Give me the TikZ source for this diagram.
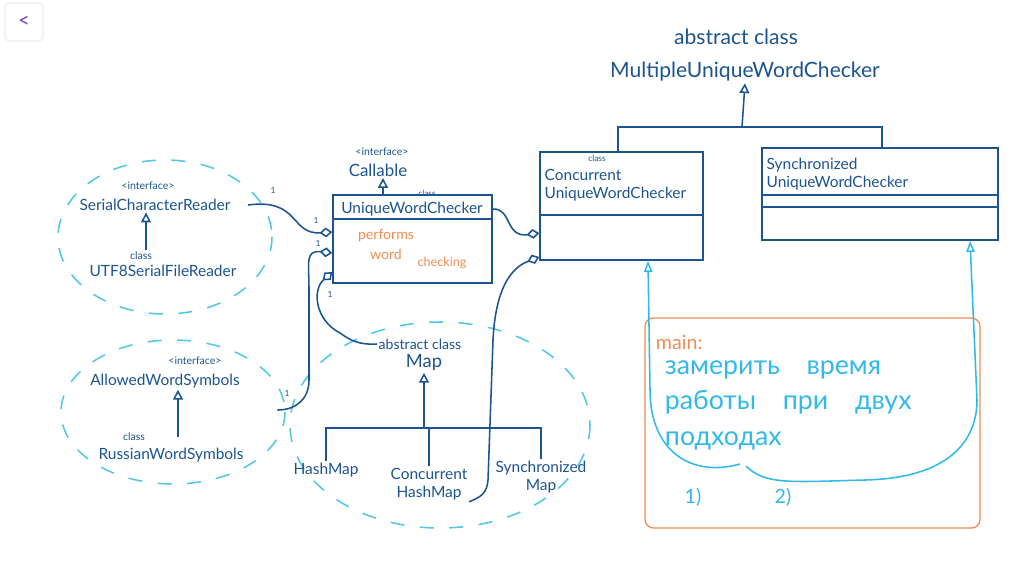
\documentclass[tikz,border=0pt]{standalone}
\usepackage{fontspec}
\setmainfont{Lato}
\usetikzlibrary{arrows.meta,positioning,fit,shapes.geometric}

\definecolor{ink}{RGB}{28,84,145}
\definecolor{cloud}{RGB}{80,200,230}
\definecolor{memo}{RGB}{238,140,85}
\definecolor{sky}{RGB}{50,185,235}
\definecolor{backpurple}{RGB}{105,60,190}

\tikzset{
  cls/.style={text=ink, font=\fontsize{11}{13}\selectfont, inner sep=1pt},
  bigcls/.style={text=ink, font=\fontsize{15}{17}\selectfont, inner sep=1pt},
  stereo/.style={text=ink, font=\fontsize{7.5}{9}\selectfont, inner sep=1pt},
  classbox/.style={draw=ink, line width=1.1pt, inner sep=0pt},
  cloudline/.style={draw=cloud, line width=1.1pt, dash pattern=on 10pt off 11pt},
  inkline/.style={draw=ink, line width=1.1pt},
  inherit/.style={inkline, -{Triangle[open, length=7pt, width=7pt]}},
  owns/.style={inkline, {Diamond[open, length=9pt, width=7pt]}-},
  mult/.style={text=ink, font=\fontsize{6}{7}\selectfont, inner sep=0pt},
  duty/.style={text=memo, font=\fontsize{10}{12}\selectfont, inner sep=1pt},
  skyline/.style={draw=sky, line width=1.1pt},
  skytip/.style={skyline, -{Triangle[open, length=8pt, width=6pt]}}
}

\begin{document}
\begin{tikzpicture}[x=0.25mm, y=-0.25mm]
\useasboundingbox (0,0) rectangle (1024,570);

\node[draw=gray!25, rounded corners=3pt, fit={(5,3) (43,41)}, inner sep=0pt] (back) {};
\node[text=backpurple, font=\Large] (backglyph) at (back.center) {<};

% readers
\draw[cloudline] (165,237) ellipse [x radius=107, y radius=77];
\node[stereo] (scrtag) at (148,186) {<interface>};
\node[cls] (scr) at (155,205) {SerialCharacterReader};
\node[stereo] (utftag) at (141,256) {class};
\node[cls] (utf) at (163,271) {UTF8SerialFileReader};
\draw[inherit] (utftag.north -| 146,0) -- (146,0 |- scr.south);

% symbols
\draw[cloudline] (173,412) ellipse [x radius=112, y radius=72];
\node[stereo] (awstag) at (195,361) {<interface>};
\node[cls] (aws) at (165,381) {AllowedWordSymbols};
\node[stereo] (rwstag) at (134,437) {class};
\node[cls] (rws) at (171,455) {RussianWordSymbols};
\draw[inherit] (rwstag.center -| 178,0) -- (178,0 |- aws.south);

% checker
\node[stereo] (calltag) at (382,152) {<interface>};
\node[cls, font=\fontsize{12}{14}\selectfont] (call) at (378,170) {Callable};
\node[classbox, fit={(333,195) (492,283)}] (uwc) {};
\draw[inkline] (uwc.west |- 0,219) -- (uwc.east |- 0,219);
\node[stereo, font=\fontsize{6}{7}\selectfont] (uwctag) at (427,193) {class};
\node[cls] (uwctitle) at (412,209) {UniqueWordChecker};
\node[duty] (duty1) at (386,236) {performs};
\node[duty] (duty2) at (386,254) {word};
\node[duty, font=\fontsize{9}{11}\selectfont] (duty3) at (442,263) {checking};
\draw[inherit] (uwc.north -| 383,0) -- (383,0 |- call.south);

% maps
\draw[cloudline] (440,425) ellipse [x radius=150, y radius=103];
\node[cls, font=\fontsize{10}{12}\selectfont] (maptag) at (420,344) {abstract class};
\node[cls, font=\fontsize{13}{15}\selectfont] (map) at (424,363) {Map};
\node[cls] (hm) at (326,470) {HashMap};
\node[cls, align=center] (chm) at (429,484) {Concurrent\\HashMap};
\node[cls, align=center] (sm) at (541,477) {Synchronized\\Map};
\coordinate (mapjoin) at (424,428);
\draw[inkline] (hm.north) |- (mapjoin) -| (sm.north);
\draw[inkline] (chm.north) -- (chm.north |- mapjoin);
\draw[inherit] (mapjoin) -- (map.south);

% multiple checkers
\node[bigcls] (muctag) at (736,37) {abstract class};
\node[bigcls] (muc) at (745,72) {MultipleUniqueWordChecker};
\node[classbox, fit={(540,152) (703,260)}] (cuwc) {};
\draw[inkline] (cuwc.west |- 0,215) -- (cuwc.east |- 0,215);
\node[stereo, font=\fontsize{6}{7}\selectfont] (cuwctag) at (597,158) {class};
\node[cls, align=left, anchor=west] (cuwctitle) at (543,185) {Concurrent\\UniqueWordChecker};
\node[classbox, fit={(762,148) (998,240)}] (suwc) {};
\draw[inkline] (suwc.west |- 0,195) -- (suwc.east |- 0,195);
\draw[inkline] (suwc.west |- 0,207) -- (suwc.east |- 0,207);
\node[cls, align=left, anchor=west] (suwctitle) at (765,174) {Synchronized\\UniqueWordChecker};
\coordinate (mucjoin) at (742,127);
\draw[inkline] (618,0 |- cuwc.north) |- (mucjoin) -| (882,0 |- suwc.north);
\draw[inherit] (mucjoin) -- (muc.south);

% aggregations
\draw[owns] (uwc.west |- 0,232) .. controls (290,235) and (300,198) .. ([xshift=4mm]scr.east);
\draw[owns] (uwc.west |- 0,253) .. controls (305,250) and (309,262) .. (309,290)
  -- (309,380) .. controls (309,400) and (295,410) .. ([xshift=9mm, yshift=-7.25mm]aws.east);
\draw[owns] (uwc.west |- 0,272) .. controls (312,290) and (315,320) .. (340,333)
  .. controls (350,340) and (358,345) .. (maptag.west);
\draw[owns] (cuwc.west |- 0,233) .. controls (505,238) and (512,208) .. (uwc.east |- 0,209);
\draw[owns] (cuwc.west |- 0,257) .. controls (505,270) and (495,300) .. (493,340)
  -- (488,480) .. controls (487,492) and (482,497) .. (chm.south east);
\foreach \p [count=\i] in {(273,190), (316,220), (318,243), (330,294), (287,393)}
  \node[mult] (one\i) at \p {1};

% main
\node[draw=memo, line width=0.9pt, rounded corners=6pt, fit={(645,318) (980,528)}, inner sep=0pt] (mainbox) {};
\node[text=memo, font=\fontsize{14}{16}\selectfont, anchor=west] (maintag) at (651,342) {main:};
\node[text=sky, font=\fontsize{19}{25}\selectfont, align=left, anchor=north west] (plan) at (660,356)
  {замерить\quad время\\работы\quad при\quad двух\\подходах};
\coordinate (forkl) at (740,464);
\coordinate (forkr) at (746,466);
\draw[skytip] (forkl) .. controls (690,478) and (650,450) .. (650,390) -- (648,0 |- cuwc.south);
\draw[skytip] (forkr) .. controls (765,485) and (790,482) .. (865,480)
  .. controls (950,478) and (977,440) .. (977,400) -- (970,0 |- suwc.south);
\node[text=sky, font=\fontsize{14}{16}\selectfont] (first) at (693,497) {1)};
\node[text=sky, font=\fontsize{14}{16}\selectfont] (second) at (783,497) {2)};

\end{tikzpicture}
\end{document}
